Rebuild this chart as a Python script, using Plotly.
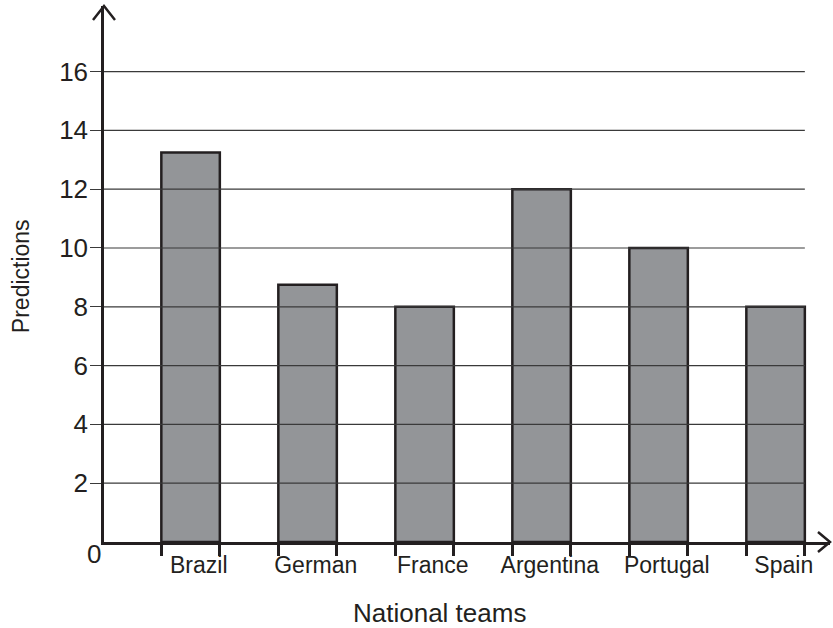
import plotly.graph_objects as go

# data
teams = ["Brazil", "German", "France", "Argentina", "Portugal", "Spain"]
predictions = [13.25, 8.75, 8, 12, 10, 8]
y_ticks = [2, 4, 6, 8, 10, 12, 14, 16]

bar_width = 0.5
x_lo, x_hi = -0.74, 5.465
y_hi = 18.23
label_offset = 0.07   # the category labels sit a little right of the bar centres
ink = "#231f20"
font_name = "Liberation Sans"

xs = list(range(len(teams)))
edges = [x + s * bar_width / 2 for x in xs for s in (-1, 1)]

fig = go.Figure()

fig.add_trace(
    go.Bar(
        x=xs,
        y=predictions,
        width=bar_width,
        marker=dict(color="#939598", line=dict(color=ink, width=2.5)),
        hovertext=teams,
        hoverinfo="text+y",
        showlegend=False,
    )
)

shapes = []

# grid lines sit on top of the bars in the reference
for v in y_ticks:
    shapes.append(dict(
        type="line", layer="above", xref="x", yref="y",
        x0=x_lo, x1=xs[-1] + bar_width / 2, y0=v, y1=v,
        line=dict(color="#3a3a3a", width=1.2),
    ))

# open arrow heads at the ends of both axes
arrow = dict(type="path", layer="above", xref="paper", yref="paper",
             xsizemode="pixel", ysizemode="pixel",
             line=dict(color=ink, width=2.5))
shapes.append(dict(arrow, xanchor=0, yanchor=1, path="M -11,-14 L 0,0 L 11,-14"))
shapes.append(dict(arrow, xanchor=1, yanchor=0, path="M -12,10 L 0,0 L -12,-10"))

fig.update_layout(
    width=833,
    height=628,
    margin=dict(l=104, r=3, t=6, b=86),
    paper_bgcolor="white",
    plot_bgcolor="white",
    font=dict(family=font_name, size=24, color=ink),
    shapes=shapes,
    xaxis=dict(
        range=[x_lo, x_hi],
        tickvals=[x + label_offset for x in xs],
        ticktext=teams,
        ticks="",
        ticklabelstandoff=1,
        minor=dict(tickvals=edges, ticks="outside", ticklen=11,
                   tickwidth=2.5, tickcolor=ink, showgrid=False),
        showgrid=False,
        zeroline=False,
        showline=True,
        linecolor=ink,
        linewidth=2.5,
        tickfont=dict(size=23),
        automargin=False,
    ),
    yaxis=dict(
        range=[0, y_hi],
        tickvals=y_ticks,
        ticks="outside",
        ticklen=11,
        tickwidth=1.2,
        tickcolor="#3a3a3a",
        ticklabelstandoff=-3,
        showgrid=False,
        zeroline=False,
        showline=True,
        linecolor=ink,
        linewidth=2.5,
        tickfont=dict(size=26),
        automargin=False,
    ),
    annotations=[
        dict(text="0", xref="paper", yref="paper", x=0, y=0,
             xanchor="right", yanchor="top", xshift=-1, yshift=5,
             showarrow=False, font=dict(size=26)),
        dict(text="National teams", xref="paper", yref="paper",
             x=0.4628, y=-0.1325, xanchor="center", yanchor="middle",
             showarrow=False, font=dict(size=26)),
        dict(text="Predictions", xref="paper", yref="paper",
             x=-0.1143, y=0.496, textangle=-90,
             xanchor="center", yanchor="middle",
             showarrow=False, font=dict(size=23)),
    ],
)

# the default page adds an 8px body margin; drop it so the figure fills the window
fig.write_html("out.html", config={"displayModeBar": False},
               post_script="document.body.style.margin = '0';")
